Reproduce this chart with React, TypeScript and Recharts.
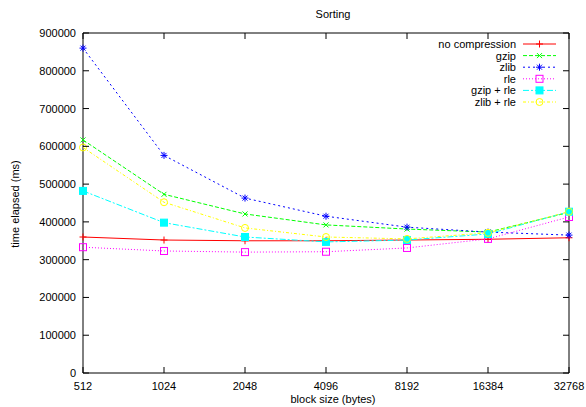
import { Legend, Line, LineChart, ReferenceArea, XAxis, YAxis } from "recharts"

const blockSizes = ["512", "1024", "2048", "4096", "8192", "16384", "32768"]
const noCompression = [360000, 352000, 350000, 350000, 352000, 354000, 358000]
const gzip = [617000, 473000, 421000, 392000, 381000, 373000, 425000]
const zlib = [860000, 576000, 463000, 415000, 386000, 373000, 365000]
const rle = [333000, 323000, 320000, 321000, 331000, 355000, 413000]
const gzipRle = [482000, 398000, 360000, 347000, 352000, 368000, 427000]
const zlibRle = [597000, 452000, 384000, 360000, 355000, 371000, 427000]
const yTicks = [0, 100000, 200000, 300000, 400000, 500000, 600000, 700000, 800000, 900000]

const data = blockSizes.map((size, i) => ({
  idx: i,
  size,
  none: noCompression[i],
  gzip: gzip[i],
  zlib: zlib[i],
  rle: rle[i],
  gzipRle: gzipRle[i],
  zlibRle: zlibRle[i],
}))

// plot box (pixels)
const L = 83
const R = 569
const T = 33
const B = 373
const FONT = "'Liberation Sans', Arial, sans-serif"

type Shape = "plus" | "cross" | "star" | "box" | "fbox" | "circle"

function Marker({ cx, cy, shape, color }: { cx: number; cy: number; shape: Shape; color: string }) {
  const s = 3.5
  switch (shape) {
    case "plus":
      return (
        <g stroke={color} strokeWidth={1}>
          <line x1={cx - s} y1={cy} x2={cx + s} y2={cy} />
          <line x1={cx} y1={cy - s} x2={cx} y2={cy + s} />
        </g>
      )
    case "cross":
      return (
        <g stroke={color} strokeWidth={1}>
          <line x1={cx - 2.5} y1={cy - 2.5} x2={cx + 2.5} y2={cy + 2.5} />
          <line x1={cx - 2.5} y1={cy + 2.5} x2={cx + 2.5} y2={cy - 2.5} />
        </g>
      )
    case "star":
      return (
        <g stroke={color} strokeWidth={1}>
          <line x1={cx - s} y1={cy} x2={cx + s} y2={cy} />
          <line x1={cx} y1={cy - s} x2={cx} y2={cy + s} />
          <line x1={cx - 2.5} y1={cy - 2.5} x2={cx + 2.5} y2={cy + 2.5} />
          <line x1={cx - 2.5} y1={cy + 2.5} x2={cx + 2.5} y2={cy - 2.5} />
        </g>
      )
    case "box":
      return <rect x={cx - 3.5} y={cy - 3.5} width={7} height={7} fill="none" stroke={color} strokeWidth={1} />
    case "fbox":
      return <rect x={cx - 3.5} y={cy - 3.5} width={7} height={7} fill={color} stroke={color} />
    case "circle":
      return <circle cx={cx} cy={cy} r={3.5} fill="none" stroke={color} strokeWidth={1} />
  }
}

const series: { key: string; name: string; color: string; dash?: string; shape: Shape }[] = [
  { key: "none", name: "no compression", color: "#ff0000", shape: "plus" },
  { key: "gzip", name: "gzip", color: "#00ff00", dash: "4 2", shape: "cross" },
  { key: "zlib", name: "zlib", color: "#0000ff", dash: "2 3", shape: "star" },
  { key: "rle", name: "rle", color: "#ff00ff", dash: "1 2", shape: "box" },
  { key: "gzipRle", name: "gzip + rle", color: "#00ffff", dash: "6 2 2 2", shape: "fbox" },
  { key: "zlibRle", name: "zlib + rle", color: "#ffff00", dash: "3 2 1 2", shape: "circle" },
]

function XTick(props: any) {
  const { x, payload } = props
  return (
    <g>
      <line x1={x} y1={B} x2={x} y2={B - 6} stroke="#000" />
      <line x1={x} y1={T} x2={x} y2={T + 6} stroke="#000" />
      <text x={x} y={B + 17} textAnchor="middle" fontSize={11} fontFamily={FONT} fill="#000">
        {blockSizes[payload.value]}
      </text>
    </g>
  )
}

function YTick(props: any) {
  const { y, payload } = props
  return (
    <g>
      <line x1={L} y1={y} x2={L + 6} y2={y} stroke="#000" />
      <line x1={R} y1={y} x2={R - 6} y2={y} stroke="#000" />
      <text x={L - 7} y={y + 4} textAnchor="end" fontSize={11} fontFamily={FONT} fill="#000">
        {payload.value}
      </text>
    </g>
  )
}

function LegendBox() {
  return (
    <svg width={150} height={80}>
      {series.map((s, i) => {
        const y = 6 + i * 11.6
        return (
          <g key={s.key}>
            <text x={96} y={y + 4} textAnchor="end" fontSize={11} fontFamily={FONT} fill="#000">
              {s.name}
            </text>
            <line x1={103} y1={y} x2={136} y2={y} stroke={s.color} strokeDasharray={s.dash} />
            <Marker cx={119.5} cy={y} shape={s.shape} color={s.color} />
          </g>
        )
      })}
    </svg>
  )
}

const labelStyle = {
  position: "absolute" as const,
  left: 0,
  width: 586,
  paddingLeft: 80,
  boxSizing: "border-box" as const,
  textAlign: "center" as const,
  fontFamily: FONT,
  fontSize: 11,
  lineHeight: "13px",
}

export default function App() {
  return (
    <div style={{ position: "absolute", top: 0, left: 0, width: 586, height: 407, overflow: "hidden", background: "#fff" }}>
      <LineChart
        width={586}
        height={407}
        data={data}
        style={{ overflow: "visible" }}
        margin={{ top: T, right: 586 - R, bottom: 407 - B - 30, left: L - 70 }}
      >
        <XAxis
          dataKey="idx"
          type="number"
          domain={[0, 6]}
          ticks={[0, 1, 2, 3, 4, 5, 6]}
          height={30}
          tickSize={0}
          tickLine={false}
          axisLine={false}
          tick={<XTick />}
          interval={0}
        />
        <YAxis
          type="number"
          domain={[0, 900000]}
          ticks={yTicks}
          width={70}
          tickSize={0}
          tickLine={false}
          axisLine={false}
          tick={<YTick />}
          interval={0}
        />
        <ReferenceArea x1={0} x2={6} y1={0} y2={900000} fill="none" stroke="#000" strokeWidth={1} ifOverflow="visible" />
        {series.map((s) => (
          <Line
            key={s.key}
            dataKey={s.key}
            name={s.name}
            stroke={s.color}
            strokeWidth={1}
            strokeDasharray={s.dash}
            isAnimationActive={false}
            activeDot={false}
            dot={(p: any) => <Marker key={`${s.key}-${p.index}`} cx={p.cx} cy={p.cy} shape={s.shape} color={s.color} />}
          />
        ))}
        <Legend
          layout="vertical"
          align="center"
          verticalAlign="middle"
          content={() => <LegendBox />}
          wrapperStyle={{ top: 38, left: 420, width: 150, height: 80 }}
        />
      </LineChart>
      <div style={{ ...labelStyle, top: 8 }}>Sorting</div>
      <div style={{ ...labelStyle, top: 393 }}>block size (bytes)</div>
      <div
        style={{
          position: "absolute",
          top: 204,
          left: 15,
          transform: "translate(-50%, -50%) rotate(-90deg)",
          whiteSpace: "nowrap",
          fontFamily: FONT,
          fontSize: 11,
        }}
      >
        time elapsed (ms)
      </div>
    </div>
  )
}
